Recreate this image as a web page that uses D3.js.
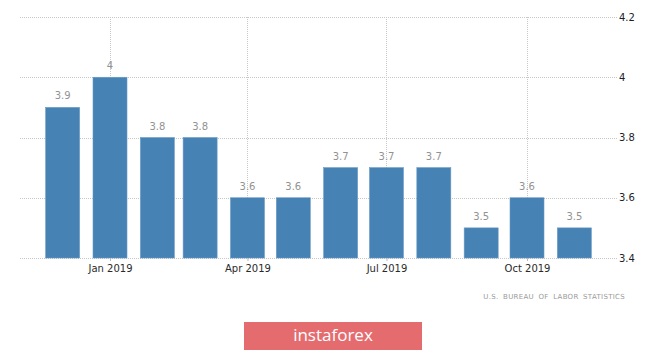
<!DOCTYPE html>
<html>
<head>
<meta charset="utf-8">
<script src="https://cdn.jsdelivr.net/npm/d3@7"></script>
<style>
  body { margin: 0; background: #fff; }
  svg { display: block; }
</style>
</head>
<body>
<div id="chart"></div>
<script>
// monthly unemployment rate, Dec 2018 - Nov 2019
const months = ["2018-12-01", "2019-01-01", "2019-02-01", "2019-03-01", "2019-04-01", "2019-05-01",
                "2019-06-01", "2019-07-01", "2019-08-01", "2019-09-01", "2019-10-01", "2019-11-01"];
const rates = [3.9, 4, 3.8, 3.8, 3.6, 3.6, 3.7, 3.7, 3.7, 3.5, 3.6, 3.5];
const tickDates = ["2019-01-01", "2019-04-01", "2019-07-01", "2019-10-01"];
const tickLabels = ["Jan 2019", "Apr 2019", "Jul 2019", "Oct 2019"];
const yTicks = [3.4, 3.6, 3.8, 4, 4.2];

function draw() {
  const width = 665, height = 352;
  const plot = {left: 20, right: 617, top: 17, bottom: 258};

  const svg = d3.select("#chart")
    .append("svg")
    .attr("width", width)
    .attr("height", height)
    .attr("viewBox", [0, 0, width, height]);

  const parse = d3.utcParse("%Y-%m-%d");

  // time scale, so quarters fall where the months really are
  const xScale = d3.scaleUtc()
    .domain([parse("2019-01-01"), parse("2019-10-01")])
    .range([110, 527]);

  const yScale = d3.scaleLinear()
    .domain([3.4, 4.2])
    .range([plot.bottom, plot.top]);

  // horizontal grid lines
  svg.append("g")
    .selectAll("line")
    .data(yTicks)
    .join("line")
    .attr("x1", plot.left)
    .attr("x2", plot.right)
    .attr("y1", d => Math.round(yScale(d)) + 0.5)
    .attr("y2", d => Math.round(yScale(d)) + 0.5)
    .attr("stroke", "#c8c8c8")
    .attr("stroke-dasharray", "1,1");

  // vertical grid lines on quarters
  svg.append("g")
    .selectAll("line")
    .data(tickDates)
    .join("line")
    .attr("x1", d => Math.round(xScale(parse(d))) + 0.5)
    .attr("x2", d => Math.round(xScale(parse(d))) + 0.5)
    .attr("y1", plot.top)
    .attr("y2", plot.bottom)
    .attr("stroke", "#c8c8c8")
    .attr("stroke-dasharray", "1,1");

  // bars
  const barWidth = 34;
  svg.append("g")
    .selectAll("rect")
    .data(months)
    .join("rect")
    .attr("x", d => xScale(parse(d)) - barWidth / 2)
    .attr("y", (d, i) => yScale(rates[i]))
    .attr("width", barWidth)
    .attr("height", (d, i) => yScale(3.4) - yScale(rates[i]))
    .attr("fill", "#4682b4")
    .attr("stroke", "#6a9bc6")
    .attr("stroke-width", 0.6);

  // value labels
  svg.append("g")
    .selectAll("text")
    .data(months)
    .join("text")
    .attr("x", d => xScale(parse(d)))
    .attr("y", (d, i) => yScale(rates[i]) - 8)
    .attr("text-anchor", "middle")
    .attr("font-family", "DejaVu Sans, sans-serif")
    .attr("font-size", 10)
    .attr("fill", "#929292")
    .text((d, i) => rates[i]);

  // x axis
  const xAxis = d3.axisBottom(xScale)
    .tickValues(tickDates.map(parse))
    .tickFormat((d, i) => tickLabels[i])
    .tickSize(3)
    .tickPadding(4);

  svg.append("g")
    .attr("transform", `translate(0, ${plot.bottom})`)
    .call(xAxis)
    .call(g => g.select(".domain").remove())
    .call(g => g.selectAll(".tick line").attr("stroke", "#bbb"))
    .call(g => g.selectAll(".tick text")
      .attr("font-family", "DejaVu Sans, sans-serif")
      .attr("font-size", 10)
      .attr("fill", "#2a2a2a"));

  // y axis on the right
  const yAxis = d3.axisRight(yScale)
    .tickValues(yTicks)
    .tickFormat(d3.format("~g"))
    .tickSize(0)
    .tickPadding(2);

  svg.append("g")
    .attr("transform", `translate(${plot.right}, 0)`)
    .call(yAxis)
    .call(g => g.select(".domain").remove())
    .call(g => g.selectAll(".tick text")
      .attr("font-family", "DejaVu Sans, sans-serif")
      .attr("font-size", 10)
      .attr("fill", "#1e1e2a"));

  // source
  svg.append("text")
    .attr("x", 625)
    .attr("y", 299)
    .attr("text-anchor", "end")
    .attr("font-family", "DejaVu Sans, sans-serif")
    .attr("font-size", 7)
    .attr("letter-spacing", 0.3)
    .attr("word-spacing", 2)
    .attr("fill", "#9a9a9a")
    .text("U.S. BUREAU OF LABOR STATISTICS");

  // logo
  svg.append("rect")
    .attr("x", 244)
    .attr("y", 322)
    .attr("width", 178)
    .attr("height", 28)
    .attr("fill", "#e46c6f");

  svg.append("text")
    .attr("x", 333)
    .attr("y", 341)
    .attr("text-anchor", "middle")
    .attr("font-family", "Open Sans, sans-serif")
    .attr("font-size", 17)
    .attr("fill", "#fff")
    .text("instaforex");
}

draw();
</script>
</body>
</html>
